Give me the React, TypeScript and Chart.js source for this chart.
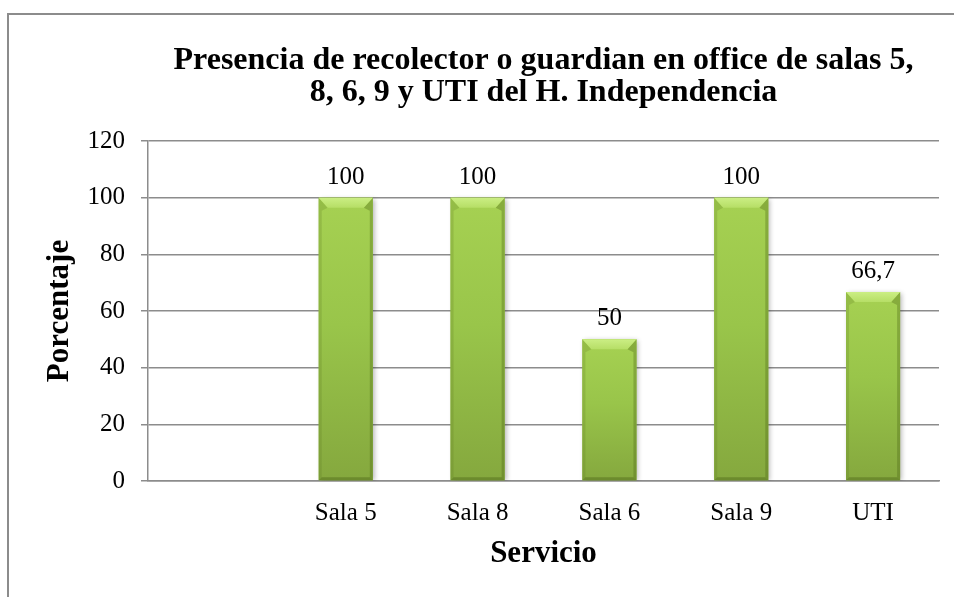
import React, { useEffect, useRef } from 'react';
import { Chart, registerables } from 'chart.js';

Chart.register(...registerables);

const categories = ['', 'Sala 5', 'Sala 8', 'Sala 6', 'Sala 9', 'UTI'];
const porcentajes: (number | null)[] = [null, 100, 100, 50, 100, 66.7];
const yTicks = [0, 20, 40, 60, 80, 100, 120];
const titleLines = [
  'Presencia de recolector o guardian en office de salas 5,',
  '8, 6, 9 y UTI del H. Independencia',
];
const yTitle = 'Porcentaje';
const xTitle = 'Servicio';

const SERIF = "'Liberation Serif', 'Times New Roman', serif";
const GRID = '#8c8c8c';

const shadowPlugin = {
  id: 'barShadow',
  beforeDatasetsDraw(chart: any) {
    const ctx = chart.ctx;
    ctx.save();
    ctx.shadowColor = 'rgba(0,0,0,0.3)';
    ctx.shadowBlur = 5;
    ctx.shadowOffsetX = 2;
    ctx.shadowOffsetY = 1;
  },
  afterDatasetsDraw(chart: any) {
    chart.ctx.restore();
  },
};

const bevelPlugin = {
  id: 'bevel',
  afterDatasetsDraw(chart: any) {
    const ctx = chart.ctx;
    const meta = chart.getDatasetMeta(0);
    meta.data.forEach((bar: any, i: number) => {
      if (porcentajes[i] == null) return;
      const l = bar.x - bar.width / 2;
      const r = bar.x + bar.width / 2;
      const t = bar.y;
      const b = bar.base;
      const h = b - t;
      if (h <= 0) return;
      const bv = Math.min(10, h / 4);
      const ins = 9;
      const sv = 3;
      ctx.save();
      const g = ctx.createLinearGradient(0, t, 0, b);
      g.addColorStop(0, '#a6d152');
      g.addColorStop(0.45, '#99c54a');
      g.addColorStop(1, '#85a83e');
      ctx.fillStyle = g;
      ctx.fillRect(l, t, r - l, h);
      ctx.beginPath();
      ctx.moveTo(l, t);
      ctx.lineTo(l + ins, t + bv);
      ctx.lineTo(l + sv, t + bv + 3);
      ctx.lineTo(l + sv, b - sv);
      ctx.lineTo(l, b);
      ctx.closePath();
      ctx.fillStyle = 'rgba(90,120,30,0.22)';
      ctx.fill();
      ctx.beginPath();
      ctx.moveTo(r, t);
      ctx.lineTo(r - ins, t + bv);
      ctx.lineTo(r - sv, t + bv + 3);
      ctx.lineTo(r - sv, b - sv);
      ctx.lineTo(r, b);
      ctx.closePath();
      ctx.fillStyle = 'rgba(70,95,20,0.32)';
      ctx.fill();
      ctx.beginPath();
      ctx.moveTo(l, b);
      ctx.lineTo(l + sv, b - sv);
      ctx.lineTo(r - sv, b - sv);
      ctx.lineTo(r, b);
      ctx.closePath();
      ctx.fillStyle = 'rgba(70,95,20,0.4)';
      ctx.fill();
      ctx.beginPath();
      ctx.moveTo(l, t);
      ctx.lineTo(r, t);
      ctx.lineTo(r - ins, t + bv);
      ctx.lineTo(l + ins, t + bv);
      ctx.closePath();
      const tg = ctx.createLinearGradient(0, t, 0, t + bv);
      tg.addColorStop(0, '#cbee84');
      tg.addColorStop(1, '#b6de66');
      ctx.fillStyle = tg;
      ctx.fill();
      ctx.restore();
    });
  },
};

const valueLabelPlugin = {
  id: 'valueLabels',
  afterDatasetsDraw(chart: any) {
    const ctx = chart.ctx;
    const meta = chart.getDatasetMeta(0);
    ctx.save();
    ctx.font = `25px ${SERIF}`;
    ctx.fillStyle = '#000';
    ctx.textAlign = 'center';
    ctx.textBaseline = 'alphabetic';
    meta.data.forEach((bar: any, i: number) => {
      const v = porcentajes[i];
      if (v == null) return;
      ctx.fillText(String(v).replace('.', ','), bar.x, bar.y - 14);
    });
    ctx.restore();
  },
};

const titlePlugin = {
  id: 'areaTitle',
  afterDraw(chart: any) {
    const ctx = chart.ctx;
    const ca = chart.chartArea;
    const cx = (ca.left + ca.right) / 2;
    ctx.save();
    ctx.font = `bold 32px ${SERIF}`;
    ctx.fillStyle = '#000';
    ctx.textAlign = 'center';
    ctx.textBaseline = 'alphabetic';
    ctx.fillText(titleLines[0], cx, 69);
    ctx.fillText(titleLines[1], cx, 101);
    ctx.restore();
  },
};

export default function App() {
  const ref = useRef<HTMLCanvasElement | null>(null);

  useEffect(() => {
    if (!ref.current) return;
    const chart = new Chart(ref.current, {
      type: 'bar',
      data: {
        labels: categories,
        datasets: [
          {
            data: porcentajes as any,
            backgroundColor: '#94bf46',
            borderWidth: 0,
            categoryPercentage: 1,
            barPercentage: 0.41,
          },
        ],
      },
      options: {
        responsive: false,
        animation: false,
        devicePixelRatio: 1,
        layout: { padding: { top: 141, right: 15, left: 0, bottom: 0 } },
        plugins: {
          legend: { display: false },
          tooltip: { enabled: false },
          title: { display: false },
        },
        scales: {
          x: {
            grid: { display: false, drawTicks: false },
            border: { display: true, color: GRID, width: 1.5 },
            ticks: {
              color: '#000',
              padding: 17,
              font: { family: SERIF, size: 25 },
              maxRotation: 0,
              autoSkip: false,
            },
            title: {
              display: true,
              text: xTitle,
              color: '#000',
              font: { family: SERIF, size: 31, weight: 'bold' },
              padding: { top: 0, bottom: 24 },
            },
            afterFit: (s: any) => {
              s.height = 116;
            },
          },
          y: {
            min: 0,
            max: 120,
            grid: { color: GRID, lineWidth: 1.5, drawTicks: true, tickLength: 7, tickColor: GRID },
            border: { display: true, color: GRID, width: 1.5 },
            ticks: {
              color: '#000',
              padding: 16,
              font: { family: SERIF, size: 25 },
              stepSize: 20,
            },
            afterBuildTicks: (s: any) => {
              s.ticks = yTicks.map((v) => ({ value: v }));
            },
            title: {
              display: true,
              text: yTitle,
              color: '#000',
              font: { family: SERIF, size: 31, weight: 'bold' },
              padding: { top: 41, bottom: 0 },
            },
            afterFit: (s: any) => {
              s.width = 148;
            },
          },
        },
      },
      plugins: [shadowPlugin, bevelPlugin, valueLabelPlugin, titlePlugin],
    });
    return () => chart.destroy();
  }, []);

  return (
    <div style={{ position: 'absolute', left: 0, top: 0, width: 954, height: 597, overflow: 'hidden', background: '#fff' }}>
      <div
        style={{
          position: 'absolute',
          left: 7,
          top: 13,
          width: 1000,
          height: 700,
          borderLeft: '2px solid #8c8c8c',
          borderTop: '2px solid #8c8c8c',
        }}
      />
      <canvas ref={ref} width={954} height={597} style={{ position: 'absolute', left: 0, top: 0, width: 954, height: 597 }} />
    </div>
  );
}
